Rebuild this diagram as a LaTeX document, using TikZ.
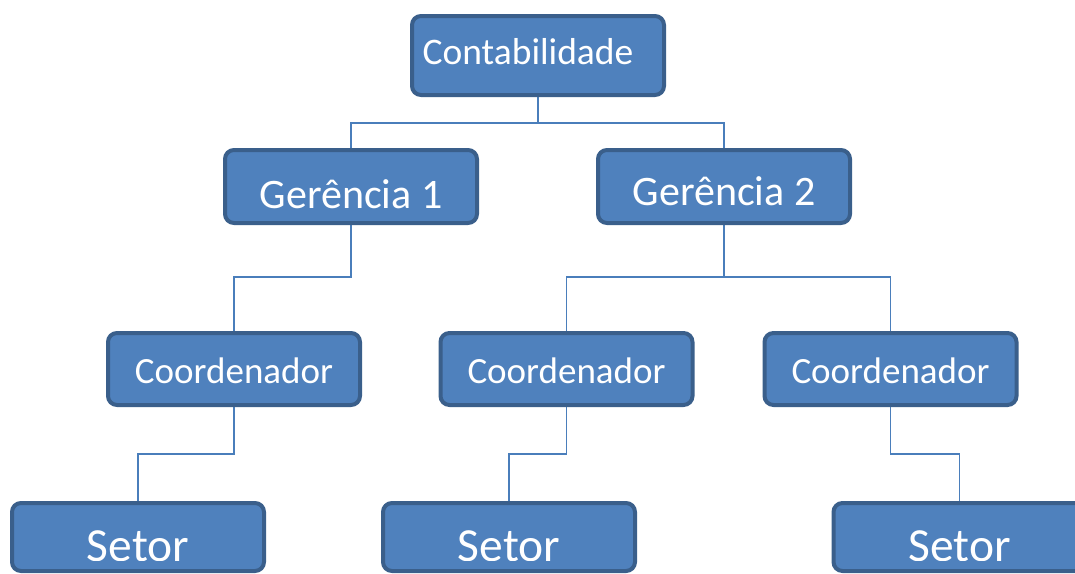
\documentclass[tikz,border=0pt]{standalone}
\usepackage{fontspec}
\setmainfont{Carlito}
\usetikzlibrary{backgrounds}

\definecolor{boxfill}{HTML}{4F81BD}
\definecolor{boxline}{HTML}{3A5F8B}
\definecolor{linkline}{HTML}{4A7EBB}

\begin{document}
\begin{tikzpicture}[x=1pt, y=-1pt,
        box/.style={draw=boxline, fill=boxfill, line width=4pt, rounded corners=9pt,
            minimum width=252pt, minimum height=72pt, inner sep=0pt,
            text=white, text depth=0pt},
        link/.style={draw=linkline, line width=1.7pt}]

    \useasboundingbox (0,0) rectangle (1075,573);
    \clip (0,0) rectangle (1075,573);

    % topo
    \node[box, minimum height=79pt, text height=17pt, font=\fontsize{37.5}{40}\selectfont]
        (cont) at (538,55.5) {Contabilidade\kern20pt};

    % gerencias
    \node[box, minimum height=73pt, text height=43pt, font=\fontsize{42}{46}\selectfont]
        (ger1) at (351,186.5) {Gerência 1};
    \node[box, minimum height=73pt, text height=37pt, font=\fontsize{42}{46}\selectfont]
        (ger2) at (724,186.5) {Gerência 2};

    % coordenadores
    \node[box, text height=28pt, font=\fontsize{37}{40}\selectfont] (coord1) at (234,369) {Coordenador};
    \node[box, text height=28pt, font=\fontsize{37}{40}\selectfont] (coord2) at (566.5,369) {Coordenador};
    \node[box, text height=28pt, font=\fontsize{37}{40}\selectfont] (coord3) at (890.5,369) {Coordenador};

    % setores
    \node[box, minimum height=68pt] (setor1) at (138,537) {};
    \node[box, minimum height=68pt] (setor2) at (509,537) {};
    \node[box, minimum height=68pt] (setor3) at (959.5,537) {};

    \begin{scope}
        \clip (0,0) rectangle (1075,560);
        \node[text=white, text height=49pt, text depth=0pt, inner sep=0pt,
            font=\fontsize{47.5}{50}\selectfont] (setor1t) at (setor1) {Setor};
        \node[text=white, text height=49pt, text depth=0pt, inner sep=0pt,
            font=\fontsize{47.5}{50}\selectfont] (setor2t) at (setor2) {Setor};
        \node[text=white, text height=49pt, text depth=0pt, inner sep=0pt,
            font=\fontsize{47.5}{50}\selectfont] (setor3t) at (setor3) {Setor};
    \end{scope}

    \begin{scope}[on background layer]
        \draw[link] (cont.south) -- ++(0,26) -| (ger1.north);
        \draw[link] (cont.south) -- ++(0,26) -| (ger2.north);

        \draw[link] (ger1.south) -- ++(0,52) -| (coord1.north);
        \draw[link] (ger2.south) -- ++(0,52) -| (coord2.north);
        \draw[link] (ger2.south) -- ++(0,52) -| (coord3.north);

        \draw[link] (coord1.south) -- ++(0,47) -| (setor1.north);
        \draw[link] (coord2.south) -- ++(0,47) -| (setor2.north);
        \draw[link] (coord3.south) -- ++(0,47) -| (setor3.north);
    \end{scope}

\end{tikzpicture}
\end{document}
